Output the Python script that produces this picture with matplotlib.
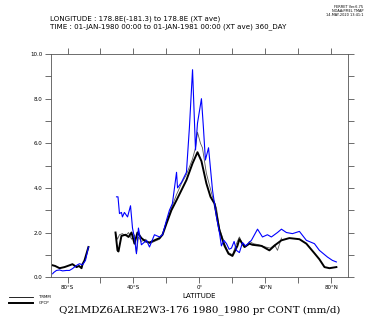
import matplotlib
matplotlib.use("Agg")
import matplotlib.pyplot as plt
import numpy as np

# model (blue)
model_lat = [-89, -88.5, -86.7, -84.8, -83, -80.6, -78.8, -77, -75.8, -74, -72.7, -70.9, -69.1, -67.3,
             -60,
             -50.3, -49.4, -48.5, -47.3, -46.7, -45.5, -43.6, -41.8, -40.6, -39.4, -38.2, -37, -35.2,
             -32.1, -30.3, -27.3, -24.2, -22.4, -20, -18.2, -16.4, -13.9, -13.3, -10.9, -7.9, -6.1,
             -4.2, -2.4, -1.2, 1.2, 2.4, 3.6, 5.5, 7.9, 10.3, 12.1, 13.3, 14.8, 16.4, 18, 19.4, 21,
             22.4, 24.2, 26.1, 28, 31.5, 35.2, 38.2, 41.2, 43.6, 47.3, 49.7, 52.7, 56.4, 60.6, 64.8,
             69.7, 72.7, 77.6, 80.6, 83]
model_val = [0.15, 0.2, 0.3, 0.32, 0.28, 0.3, 0.3, 0.38, 0.45, 0.55, 0.6, 0.55, 0.75, 1.35,
             np.nan,
             3.6, 3.6, 2.85, 2.9, 2.7, 2.9, 2.7, 3.2, 2.2, 1.75, 1.05, 2.2, 1.45,
             1.65, 1.35, 1.9, 1.8, 1.9, 2.55, 3.0, 3.3, 4.7, 4.0, 4.25, 4.7, 6.7,
             9.3, 5.7, 6.9, 8.0, 6.7, 5.25, 5.8, 3.9, 2.7, 2.0, 1.4, 1.65, 1.5, 1.25, 1.3, 1.6,
             1.2, 1.1, 1.55, 1.4, 1.65, 2.15, 1.8, 1.9, 1.8, 2.0, 2.15, 2.0, 1.95, 2.05, 1.65,
             1.5, 1.2, 0.9, 0.75, 0.68]

# GPCP (thick black)
gpcp_lat = [-89, -87.5, -84.8, -81.8, -78.8, -77, -74.5, -73, -71.5, -70.9, -69.7, -67.3,
            -60,
            -50.9, -49.7, -49.1, -47.3, -44.8, -43, -41.2, -39.4, -37.6, -35.2, -32.7, -30.3,
            -27.3, -24.2, -22.4, -20, -17, -13.9, -10.9, -7.9, -4.2, -1.2, 1.2, 4.2, 6.7, 9.1,
            12.1, 15.2, 17.6, 20, 23, 24.2, 27.3, 30.3, 32.1, 37.6, 42.4, 46.1, 49.7, 54.5, 60.6,
            64.8, 69.7, 72.7, 75.8, 78.8, 83]
gpcp_val = [0.53, 0.5, 0.4, 0.45, 0.53, 0.58, 0.45, 0.5, 0.4, 0.58, 0.75, 1.35,
            np.nan,
            2.0, 1.2, 1.15, 1.85, 1.9, 1.8, 2.0, 1.5, 2.0, 1.75, 1.6, 1.55,
            1.65, 1.75, 1.9, 2.4, 3.0, 3.45, 3.9, 4.35, 5.1, 5.6, 5.2, 4.2, 3.6, 3.3,
            2.1, 1.4, 1.05, 0.95, 1.4, 1.7, 1.35, 1.5, 1.45, 1.4, 1.2, 1.45, 1.65, 1.75, 1.7,
            1.5, 1.07, 0.8, 0.45, 0.4, 0.45]

# TRMM (thin line)
trmm_lat = [-50.9, -49.7, -48.5, -46.7, -44.8, -43, -41.2, -39.4, -38.2, -37, -35.2, -32.7,
            -30.3, -27.3, -24.2, -22.4, -20, -17, -13.9, -10.9, -7.9, -4.2, -2.4, -1.2, 0.6,
            1.8, 4.2, 7.9, 10.3, 12.1, 15.2, 17.6, 20, 22.4, 24.2, 26.1, 28, 30.3, 32.7, 36, 40,
            43, 45.5, 47.3, 49.7]
trmm_val = [2.0, 1.7, 1.9, 1.95, 1.85, 2.0, 1.7, 1.9, 1.05, 1.8, 1.6, 1.7,
            1.5, 1.6, 1.7, 1.9, 2.5, 3.1, 3.7, 4.2, 4.6, 5.3, 5.8, 6.5, 6.0,
            5.8, 4.65, 3.6, 3.1, 2.2, 1.5, 1.1, 1.0, 1.5, 1.8, 1.5, 1.35, 1.6, 1.5, 1.45, 1.35,
            1.3, 1.45, 1.2, 1.75]

xtick_pos = [-80, -40, 0, 40, 80]
xtick_lab = ["80°S", "40°S", "0°", "40°N", "80°N"]

fig = plt.figure(figsize=(3.67, 3.20), dpi=100)
ax = fig.add_axes([0.139, 0.134, 0.809, 0.697])

ax.plot(trmm_lat, trmm_val, color="#555555", lw=0.6)
ax.plot(gpcp_lat, gpcp_val, color="black", lw=1.4)
ax.plot(model_lat, model_val, color="#0000ff", lw=0.8)

ax.set_xlim(-90, 90)
ax.set_ylim(0, 10)
ax.set_xticks(np.arange(-80, 81, 20), minor=True)
ax.set_xticks(xtick_pos)
ax.set_xticklabels(xtick_lab)
ax.set_yticks(np.arange(0, 10.1, 2))
ax.set_yticklabels(["%.1f" % v for v in np.arange(0, 10.1, 2)])
ax.set_yticks(np.arange(0, 10.1, 1), minor=True)
ax.tick_params(which="both", direction="out", length=4, width=0.6, color="#555555",
               top=True, right=True, labelsize=4, pad=2)
for s in ax.spines.values():
    s.set_linewidth(0.6)
    s.set_color("#555555")
ax.set_xlabel("LATITUDE", fontsize=5, labelpad=2)

fig.text(0.136, 0.935, "LONGITUDE : 178.8E(-181.3) to 178.8E (XT ave)", fontsize=5.1)
fig.text(0.136, 0.912, "TIME : 01-JAN-1980 00:00 to 01-JAN-1981 00:00 (XT ave) 360_DAY", fontsize=5.1)
fig.text(0.99, 0.985, "FERRET Ver.6.75\nNOAA/PMEL TMAP\n14-MAY-2020 13:41:1", fontsize=2.5,
         ha="right", va="top", linespacing=1.0)

# legend
fig.add_artist(plt.Line2D([0.025, 0.09], [0.073, 0.073], color="black", lw=0.6))
fig.add_artist(plt.Line2D([0.025, 0.09], [0.052, 0.052], color="black", lw=1.4))
fig.text(0.105, 0.073, "TRMM", fontsize=2.8, va="center")
fig.text(0.105, 0.052, "GPCP", fontsize=2.8, va="center")

fig.text(0.545, 0.03, "Q2LMDZ6ALRE2W3-176 1980_1980 pr CONT (mm/d)", fontsize=7.4,
         family="DejaVu Serif", ha="center", va="center")

fig.savefig("out.png", dpi=100)
